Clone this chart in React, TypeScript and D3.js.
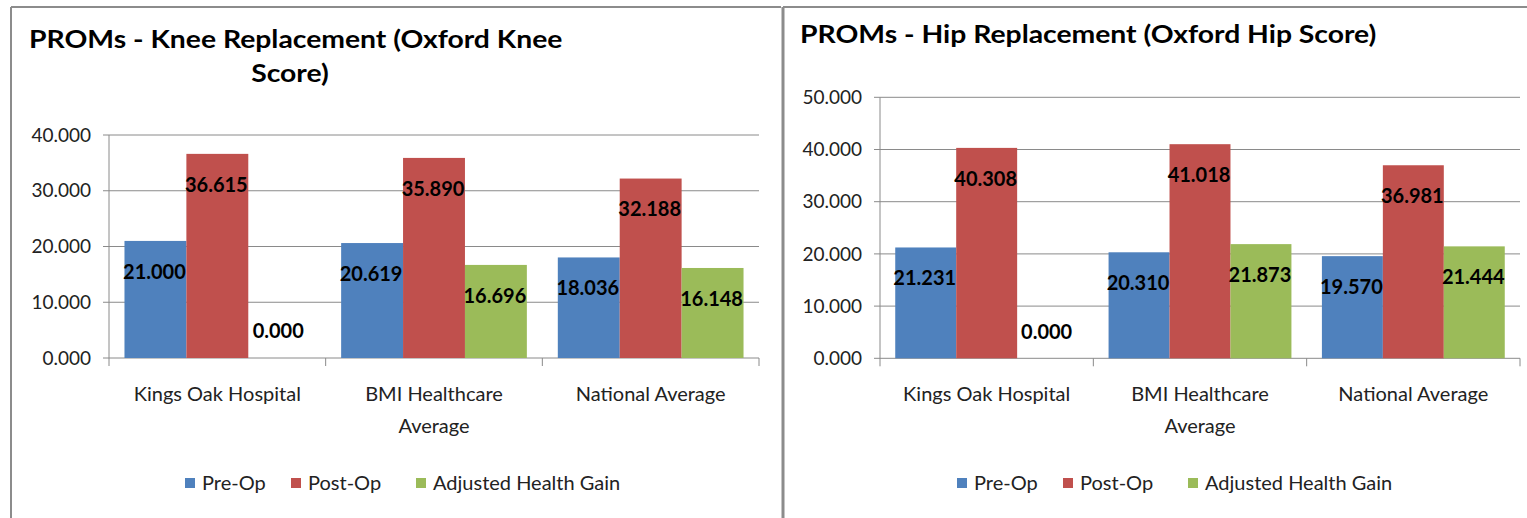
import React from "react";
import * as d3 from "d3";

const categories = ["Kings Oak Hospital", "BMI Healthcare Average", "National Average"];
const seriesNames = ["Pre-Op", "Post-Op", "Adjusted Health Gain"];
const seriesColors = ["#4F81BD", "#C0504D", "#9BBB59"];

const kneePreOp = [21.0, 20.619, 18.036];
const kneePostOp = [36.615, 35.89, 32.188];
const kneeGain = [0.0, 16.696, 16.148];
const kneeTicks = [0, 10, 20, 30, 40];

const hipPreOp = [21.231, 20.31, 19.57];
const hipPostOp = [40.308, 41.018, 36.981];
const hipGain = [0.0, 21.873, 21.444];
const hipTicks = [0, 10, 20, 30, 40, 50];

const FONT = "Lato, 'Open Sans', sans-serif";
const fmt = d3.format(".3f");

function wrap(label: string, maxChars: number): string[] {
  const words = label.split(" ");
  const lines: string[] = [];
  let cur = "";
  for (const w of words) {
    const next = cur ? cur + " " + w : w;
    if (next.length > maxChars && cur) {
      lines.push(cur);
      cur = w;
    } else cur = next;
  }
  if (cur) lines.push(cur);
  return lines;
}

type PanelProps = {
  titleLines: { text: string; x: number; y: number; anchor: string }[];
  series: number[][];
  ticks: number[];
  x0: number;
  x1: number;
  yBase: number;
  yTopPx: number;
  legendX: number;
};

const legendOffsets = [0, 106, 231];

function Panel({ titleLines, series, ticks, x0, x1, yBase, yTopPx, legendX }: PanelProps) {
  const yMax = ticks[ticks.length - 1];
  const y = d3.scaleLinear().domain([0, yMax]).range([yBase, yTopPx]);
  const xCat = d3.scaleBand<string>().domain(categories).range([x0, x1]).padding(0);
  const bw = xCat.bandwidth();
  const barW = bw / 3.5;
  const xSeries = d3
    .scaleBand<string>()
    .domain(seriesNames)
    .range([barW * 0.25, barW * 3.25])
    .padding(0);
  const gridColor = "#8a8a8a";

  return (
    <g>
      {titleLines.map((t, i) => (
        <text
          key={i}
          transform={`translate(${t.x},${t.y}) scale(1.18,1)`}
          textAnchor={t.anchor}
          fontFamily={FONT}
          fontWeight="bold"
          fontSize={24}
          fill="#000"
        >
          {t.text}
        </text>
      ))}
      {ticks.map((t) => (
        <g key={t}>
          <line x1={x0} x2={x1} y1={y(t)} y2={y(t)} stroke={gridColor} strokeWidth={1} />
          <line x1={x0 - 6} x2={x0} y1={y(t)} y2={y(t)} stroke={gridColor} strokeWidth={1} />
          <text
            x={x0 - 18}
            y={y(t)}
            dy="0.35em"
            textAnchor="end"
            fontFamily={FONT}
            fontSize={19}
            fill="#222"
          >
            {fmt(t)}
          </text>
        </g>
      ))}
      <line x1={x0} x2={x0} y1={y(yMax)} y2={yBase + 8} stroke={gridColor} strokeWidth={1} />
      {categories.map((c, i) => (
        <line
          key={"ct" + i}
          x1={(xCat(c) as number) + bw}
          x2={(xCat(c) as number) + bw}
          y1={yBase}
          y2={yBase + 8}
          stroke={gridColor}
          strokeWidth={1}
        />
      ))}
      {series.map((vals, si) =>
        vals.map((v, ci) => {
          const bx = (xCat(categories[ci]) as number) + (xSeries(seriesNames[si]) as number);
          return (
            <rect
              key={`b${si}-${ci}`}
              x={bx}
              y={y(v)}
              width={xSeries.bandwidth()}
              height={yBase - y(v)}
              fill={seriesColors[si]}
            />
          );
        })
      )}
      {series.map((vals, si) =>
        vals.map((v, ci) => {
          const bx = (xCat(categories[ci]) as number) + (xSeries(seriesNames[si]) as number);
          const cy = v > 0 ? y(v) + 30.5 : yBase - 27;
          return (
            <text
              key={`l${si}-${ci}`}
              x={bx + xSeries.bandwidth() / 2 - 1}
              y={cy}
              dy="0.36em"
              textAnchor="middle"
              fontFamily={FONT}
              fontWeight="bold"
              fontSize={20}
              fill="#000"
            >
              {fmt(v)}
            </text>
          );
        })
      )}
      {categories.map((c, i) =>
        wrap(c, 18).map((line, li) => (
          <text
            key={`c${i}-${li}`}
            x={(xCat(c) as number) + bw / 2}
            y={401 + li * 32}
            textAnchor="middle"
            fontFamily={FONT}
            fontSize={20}
            fill="#222"
          >
            {line}
          </text>
        ))
      )}
      {seriesNames.map((n, i) => (
        <g key={n}>
          <rect x={legendX + legendOffsets[i]} y={478} width={10} height={10} fill={seriesColors[i]} />
          <text
            x={legendX + legendOffsets[i] + 17}
            y={490}
            fontFamily={FONT}
            fontSize={20}
            fill="#222"
          >
            {n}
          </text>
        </g>
      ))}
    </g>
  );
}

export default function App() {
  const border = "#8c8c8c";
  return (
    <svg
      width={1527}
      height={518}
      style={{ position: "absolute", left: 0, top: 0, background: "#fff" }}
    >
      <rect x={0} y={0} width={1527} height={518} fill="#fff" />
      <line x1={11} x2={11} y1={7} y2={518} stroke={border} strokeWidth={2} />
      <line x1={11} x2={781} y1={7} y2={7} stroke={border} strokeWidth={2} />
      <line x1={783} x2={783} y1={7} y2={518} stroke={border} strokeWidth={3} />
      <line x1={783} x2={1527} y1={7} y2={7} stroke={border} strokeWidth={2} />
      <Panel
        titleLines={[
          { text: "PROMs - Knee Replacement (Oxford Knee", x: 29, y: 48, anchor: "start" },
          { text: "Score)", x: 290, y: 82, anchor: "middle" },
        ]}
        series={[kneePreOp, kneePostOp, kneeGain]}
        ticks={kneeTicks}
        x0={109}
        x1={759}
        yBase={358}
        yTopPx={135}
        legendX={185}
      />
      <Panel
        titleLines={[
          { text: "PROMs - Hip Replacement (Oxford Hip Score)", x: 800, y: 43, anchor: "start" },
        ]}
        series={[hipPreOp, hipPostOp, hipGain]}
        ticks={hipTicks}
        x0={880}
        x1={1520}
        yBase={358.3}
        yTopPx={97.3}
        legendX={957}
      />
    </svg>
  );
}
